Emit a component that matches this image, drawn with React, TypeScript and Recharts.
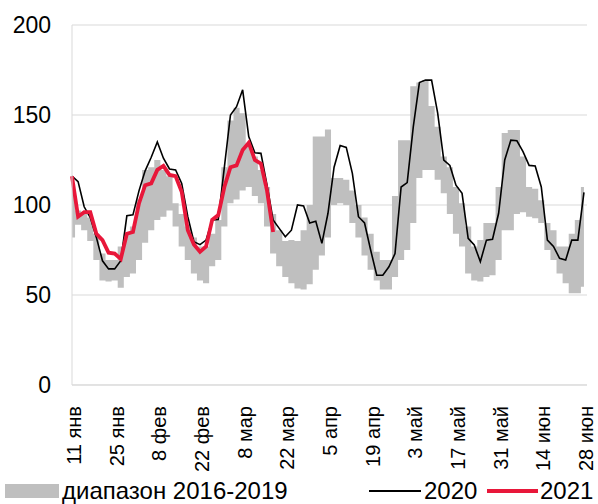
import { ComposedChart, Area, Line, XAxis, YAxis, CartesianGrid } from 'recharts';

// one point every 2 days, day 0 = 11 янв
const tickDays = [0, 14, 28, 42, 56, 70, 84, 98, 112, 126, 140, 154, 168];
const tickLabels = ['11 янв', '25 янв', '8 фев', '22 фев', '8 мар', '22 мар', '5 апр', '19 апр', '3 май', '17 май', '31 май', '14 июн', '28 июн'];

const rangeLow = [
    82, 89, 86, 80, 69.5, 58, 57.5, 58, 54, 60, 62, 69.5, 79, 86, 91.7, 93.5, 97,
    88, 77, 69.5, 62, 58, 56.5, 66, 69.5, 88, 101, 103, 108, 110, 105, 101, 88,
    73, 66, 60, 56.5, 53.6, 53, 56, 64, 72, 82, 100, 101, 100, 90, 82, 72, 64, 58,
    53, 53, 60, 69.5, 75, 90, 115, 119.5, 119.5, 114, 106.5, 95, 84, 77, 62, 58,
    57.5, 60, 61, 69.5, 86, 86, 95, 96, 93.5, 92.6, 90, 75, 69.5, 62, 56.5, 51, 51, 54.6,
];
const rangeHigh = [
    112, 97, 96, 93, 84, 73, 69.5, 69.5, 77, 84, 88, 103, 119.5, 121, 125, 119.5, 116,
    101, 95, 88, 82, 77, 77, 84, 91.7, 121, 147, 154, 151, 134, 127, 119.5, 110,
    95, 86, 80, 80.5, 80, 86, 100, 138, 138, 142, 115, 115, 114, 108, 100, 93, 84, 74,
    69.5, 69.5, 105, 136, 136, 166, 168, 169.5, 155, 143.5, 127, 121, 110, 101, 88, 77,
    80.5, 90, 90, 110, 140, 141.7, 141.7, 127, 110, 109, 102.7, 90, 86, 77, 77, 84, 91.7, 110,
];
const values2020 = [
    116, 113, 99, 93, 82, 69, 64.5, 64.5, 69, 94, 94.5, 108, 119, 126.5, 135, 126, 120,
    119.5, 112, 93.5, 79.6, 78, 80.5, 91.7, 92, 121, 150, 154.6, 164, 138, 129, 128.7, 111,
    91.7, 87, 82.4, 86, 100, 99.5, 90, 91, 78.7, 95.4, 121, 133, 132, 117.6, 93.5, 90, 75, 61,
    61, 65.7, 73, 110, 112.4, 143.5, 168, 169.4, 169.4, 151, 125, 122, 111, 106.5, 81.5, 77.8,
    68.5, 80.5, 81, 95.4, 125, 136, 135.7, 129.6, 122, 121.7, 110, 80.5, 77, 70.4, 69.4, 80.5, 80.5, 107,
];
const values2021 = [
    116, 93.5, 96, 96, 84, 80.5, 73.5, 73, 70, 84, 85, 101, 111, 112, 119.5, 121.7, 116.7,
    116, 107.4, 86, 78, 74, 77, 91.7, 94.4, 110, 121, 122, 130.5, 134.6, 125, 123, 108, 85,
];

const data = values2020.map((v, i) => ({
    day: i * 2,
    range: [rangeLow[i], rangeHigh[i]],
    y2020: v,
    y2021: i < values2021.length ? values2021[i] : null,
}));

const font = '"Liberation Sans", Arial, sans-serif';
const red = '#e8173a';

const XTick = ({ x, y, payload }: any) => (
    <text
        x={x + 2}
        y={y + 13}
        transform={`rotate(-90, ${x + 2}, ${y + 13})`}
        textAnchor="end"
        dominantBaseline="central"
        fontSize={20}
        fontFamily={font}
        fill="#000"
    >
        {tickLabels[tickDays.indexOf(payload.value)]}
    </text>
);

const YTick = ({ y, payload }: any) => (
    <text x={51} y={y} textAnchor="end" dominantBaseline="central" fontSize={23} fontFamily={font} fill="#000">
        {payload.value}
    </text>
);

const App = () => {
    return (
        <div style={{ position: 'absolute', left: 0, top: 0, width: 598, height: 504, background: '#fff' }}>
            <ComposedChart width={598} height={504} data={data} margin={{ top: 25, right: 11, left: 0, bottom: 0 }}>
                <CartesianGrid vertical={false} stroke="#d9d9d9" />
                <XAxis
                    type="number"
                    dataKey="day"
                    domain={[0, 169]}
                    ticks={tickDays}
                    interval={0}
                    tick={<XTick />}
                    tickLine={false}
                    axisLine={{ stroke: '#d9d9d9' }}
                    height={119}
                />
                <YAxis
                    domain={[0, 200]}
                    ticks={[0, 50, 100, 150, 200]}
                    tick={<YTick />}
                    tickLine={false}
                    axisLine={{ stroke: '#d9d9d9' }}
                    width={72}
                />
                <Area
                    type="step"
                    dataKey="range"
                    fill="#bfbfbf"
                    fillOpacity={1}
                    stroke="none"
                    isAnimationActive={false}
                />
                <Line
                    type="linear"
                    dataKey="y2020"
                    stroke="#000"
                    strokeWidth={1.6}
                    dot={false}
                    isAnimationActive={false}
                />
                <Line
                    type="linear"
                    dataKey="y2021"
                    stroke={red}
                    strokeWidth={3.8}
                    dot={false}
                    connectNulls={false}
                    isAnimationActive={false}
                />
            </ComposedChart>
            <div style={{ position: 'absolute', left: 0, top: 477, width: 598, height: 27, fontFamily: font, fontSize: 24, color: '#000' }}>
                <div style={{ position: 'absolute', left: 5, top: 7, width: 54, height: 14, background: '#bfbfbf' }} />
                <span style={{ position: 'absolute', left: 62, top: 0, lineHeight: '27px' }}>диапазон 2016-2019</span>
                <div style={{ position: 'absolute', left: 369, top: 13, width: 52, height: 1.6, background: '#000' }} />
                <span style={{ position: 'absolute', left: 424, top: 0, lineHeight: '27px' }}>2020</span>
                <div style={{ position: 'absolute', left: 487, top: 12, width: 51, height: 4, background: red }} />
                <span style={{ position: 'absolute', left: 540, top: 0, lineHeight: '27px' }}>2021</span>
            </div>
        </div>
    );
};

export default App;
